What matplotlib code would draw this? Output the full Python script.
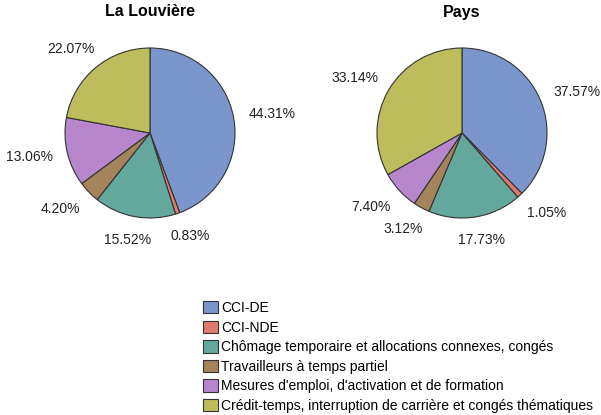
import numpy as np
import matplotlib.pyplot as plt

plt.rcParams['font.family'] = ['Liberation Sans', 'DejaVu Sans']

# data
categories = ['CCI-DE', 'CCI-NDE',
              'Chômage temporaire et allocations connexes, congés',
              'Travailleurs à temps partiel',
              "Mesures d'emploi, d'activation et de formation",
              'Crédit-temps, interruption de carrière et congés thématiques']
louviere = [44.31, 0.83, 15.52, 4.20, 13.06, 22.07]
pays = [37.57, 1.05, 17.73, 3.12, 7.40, 33.14]
titles = ['La Louvière', 'Pays']
colors = ['#7a96cc', '#e17a6e', '#63a79d', '#a5835b', '#b786cd', '#bebd5e']

W, H = 601, 415
fig = plt.figure(figsize=(W / 100, H / 100), dpi=100)

R = 85
centers = [(150, 133), (462, 133)]

wedges_all = None
for (cx, cy), vals, title in zip(centers, [louviere, pays], titles):
    ax = fig.add_axes([(cx - R) / W, (H - cy - R) / H, 2 * R / W, 2 * R / H])
    wedges, _ = ax.pie(vals, colors=colors, startangle=90, counterclock=False,
                       wedgeprops=dict(edgecolor='#333333', linewidth=0.8))
    ax.set_xlim(-1, 1)
    ax.set_ylim(-1, 1)
    ax.set_aspect('equal')
    ax.axis('off')
    for w, v in zip(wedges, vals):
        ang = np.deg2rad((w.theta1 + w.theta2) / 2)
        c, s = np.cos(ang), np.sin(ang)
        x = 1.2 * c + 0.26 * c
        y = 1.2 * s + 0.08 * s
        ax.text(x, y, f'{v:.2f}%', ha='center', va='center', fontsize=10,
                color='#222222', clip_on=False)
    fig.text(cx / W, 1 - 12 / H, title, ha='center', va='center',
             fontsize=11.5, fontweight='bold')
    wedges_all = wedges

fig.legend(wedges_all, categories, loc='upper left',
           bbox_to_anchor=(203 / W, 1 - 301 / H), frameon=False,
           fontsize=10, handlelength=1.1, handleheight=1.0,
           handletextpad=0.2, labelspacing=0.4, borderpad=0,
           borderaxespad=0)

fig.savefig('out.png', dpi=100)
